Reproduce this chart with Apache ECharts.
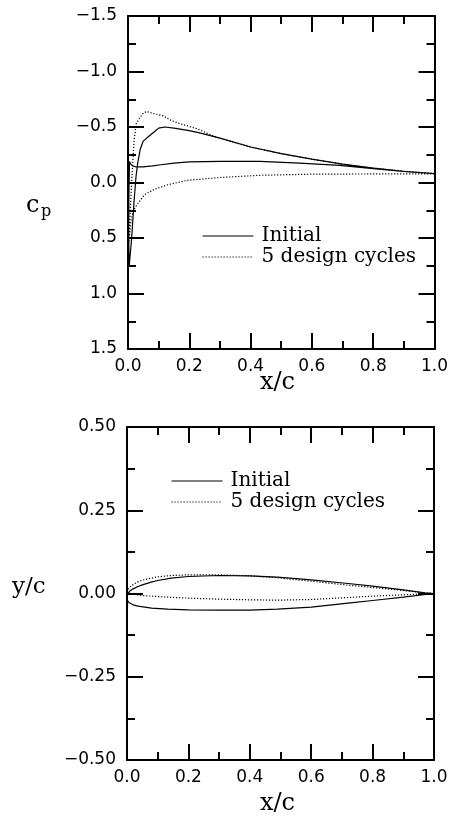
<!DOCTYPE html>
<html>
<head>
<meta charset="utf-8">
<script src="https://cdn.jsdelivr.net/npm/echarts@6/dist/echarts.min.js"></script>
<style>
  html, body { margin: 0; padding: 0; background: #fff; }
  #chart { width: 451px; height: 821px; }
</style>
</head>
<body>
<div id="chart"></div>
<script>
// pressure coefficient, upper surface runs TE -> LE, lower LE -> TE
const cpInitialUpper = [
  [1.0, -0.08], [0.9, -0.10], [0.8, -0.13], [0.7, -0.165], [0.6, -0.21], [0.5, -0.26],
  [0.4, -0.32], [0.3, -0.40], [0.23, -0.45], [0.195, -0.47], [0.15, -0.49], [0.12, -0.50],
  [0.1, -0.49], [0.087, -0.46], [0.065, -0.41], [0.049, -0.37], [0.04, -0.30], [0.032, -0.18],
  [0.026, -0.05], [0.02, 0.16], [0.012, 0.5], [0.004, 0.75]
];
const cpInitialLower = [
  [0.002, 0.5], [0.003, 0.1], [0.005, -0.19], [0.008, -0.17], [0.015, -0.15], [0.027, -0.14],
  [0.049, -0.14], [0.08, -0.15], [0.107, -0.16], [0.15, -0.175], [0.2, -0.185], [0.3, -0.19],
  [0.43, -0.19], [0.56, -0.175], [0.69, -0.155], [0.8, -0.125], [0.9, -0.10], [1.0, -0.08]
];
const cpDesignUpper = [
  [1.0, -0.08], [0.9, -0.10], [0.8, -0.13], [0.7, -0.165], [0.6, -0.21], [0.5, -0.26],
  [0.4, -0.32], [0.3, -0.40], [0.26, -0.44], [0.234, -0.475], [0.195, -0.51], [0.169, -0.53],
  [0.14, -0.56], [0.115, -0.60], [0.085, -0.62], [0.06, -0.64], [0.048, -0.62], [0.038, -0.58],
  [0.027, -0.53], [0.02, -0.38], [0.016, -0.2], [0.01, 0.1], [0.005, 0.4], [0.003, 0.55]
];
const cpDesignLower = [
  [0.004, 0.5], [0.01, 0.35], [0.016, 0.26], [0.027, 0.21], [0.04, 0.16], [0.054, 0.11],
  [0.087, 0.06], [0.13, 0.02], [0.195, -0.02], [0.3, -0.045], [0.43, -0.065], [0.6, -0.075],
  [0.8, -0.077], [1.0, -0.078]
];

// airfoil shape y/c
const foilInitialUpper = [
  [1.0, 0], [0.97, 0.002], [0.9, 0.011], [0.8, 0.022], [0.72, 0.030], [0.6, 0.041],
  [0.49, 0.049], [0.4, 0.053], [0.3, 0.054], [0.2, 0.051], [0.144, 0.046], [0.1, 0.039],
  [0.079, 0.034], [0.05, 0.026], [0.036, 0.021], [0.02, 0.014], [0.008, 0.007], [0.002, 0.001]
];
const foilInitialLower = [
  [0, -0.008], [0.001, -0.02], [0.006, -0.027], [0.02, -0.034], [0.036, -0.038], [0.08, -0.044],
  [0.133, -0.047], [0.2, -0.049], [0.3, -0.05], [0.4, -0.05], [0.49, -0.047], [0.6, -0.041],
  [0.72, -0.029], [0.8, -0.021], [0.9, -0.011], [1.0, 0]
];
const foilDesignUpper = [
  [1.0, 0], [0.97, 0.002], [0.9, 0.009], [0.8, 0.018], [0.72, 0.025], [0.6, 0.037],
  [0.49, 0.047], [0.4, 0.053], [0.3, 0.056], [0.2, 0.056], [0.144, 0.054], [0.1, 0.050],
  [0.079, 0.046], [0.05, 0.040], [0.036, 0.035], [0.02, 0.027], [0.008, 0.018], [0.002, 0.01]
];
const foilDesignLower = [
  [0, 0.003], [0.005, -0.001], [0.036, -0.005], [0.08, -0.008], [0.133, -0.011], [0.2, -0.014],
  [0.3, -0.017], [0.4, -0.019], [0.49, -0.02], [0.6, -0.018], [0.72, -0.012], [0.8, -0.008],
  [0.9, -0.004], [1.0, 0]
];

const names = ['Initial', '5 design cycles'];

const tickFont = { fontFamily: 'DejaVu Sans', fontSize: 17, color: '#000' };
const serif = 'DejaVu Serif';
const fmt = (d) => (v) => (v < 0 ? '\u2212' : '') + Math.abs(v).toFixed(d);

const frame = (extra) => Object.assign({
  type: 'value',
  axisLine: { show: true, onZero: false, lineStyle: { color: '#000', width: 2 } },
  axisTick: { show: true, inside: true, length: 16, lineStyle: { color: '#000', width: 2 } },
  minorTick: { show: true, splitNumber: 2, length: 8, lineStyle: { color: '#000', width: 2 } },
  splitLine: { show: false },
  minorSplitLine: { show: false },
}, extra);

const xAxes = (grid) => [
  frame({ gridIndex: grid, position: 'bottom', min: 0, max: 1, interval: 0.2,
    axisLabel: Object.assign({ margin: 9, formatter: fmt(1) }, tickFont) }),
  frame({ gridIndex: grid, position: 'top', min: 0, max: 1, interval: 0.2, axisLabel: { show: false } }),
];
const yAxes = (grid, min, max, step, dec, inverse) => [
  frame({ gridIndex: grid, position: 'left', min, max, interval: step, inverse,
    axisLabel: Object.assign({ margin: 11, formatter: fmt(dec) }, tickFont) }),
  frame({ gridIndex: grid, position: 'right', min, max, interval: step, inverse, axisLabel: { show: false } }),
];

const solid = { color: '#000', width: 1.2, type: 'solid' };
const dotted = { color: '#000', width: 1.2, type: [1.2, 1.8] };
const line = (name, data, style, ax) => ({
  name, type: 'line', data, xAxisIndex: ax, yAxisIndex: ax,
  symbol: 'none', showSymbol: false, lineStyle: style, itemStyle: { color: '#000' },
  animation: false,
});

// legend draws a circle for symbol 'none', hide it
const legend = (left, top) => ({
  data: names, orient: 'vertical', left, top, itemWidth: 51, itemHeight: 14, itemGap: 1,
  selectedMode: false,
  itemStyle: { opacity: 0, borderWidth: 0 },
  lineStyle: { width: 1 },
  textStyle: { fontFamily: serif, fontSize: 20, lineHeight: 20, color: '#000', padding: [0, 0, 0, 3] },
});

const titles = [
  { type: 'text', left: 260, top: 371, style: { text: 'x/c', font: '24px "DejaVu Serif"', fill: '#000' } },
  { type: 'text', left: 260, top: 792, style: { text: 'x/c', font: '24px "DejaVu Serif"', fill: '#000' } },
  { type: 'text', left: 26, top: 194, style: { text: 'c', font: '24px "DejaVu Serif"', fill: '#000' } },
  { type: 'text', left: 41, top: 204, style: { text: 'p', font: '16px "DejaVu Serif"', fill: '#000' } },
  { type: 'text', left: 12, top: 576, style: { text: 'y/c', font: '23px "DejaVu Serif"', fill: '#000' } },
];

const chart = echarts.init(document.getElementById('chart'));
chart.setOption({
  animation: false,
  backgroundColor: '#fff',
  grid: [
    { left: 128, top: 16, width: 307, height: 333 },
    { left: 127, top: 427, width: 307, height: 333 },
  ],
  xAxis: [...xAxes(0), ...xAxes(1)],
  yAxis: [...yAxes(0, -1.5, 1.5, 0.5, 1, true), ...yAxes(1, -0.5, 0.5, 0.25, 2, false)],
  legend: [legend(197, 221), legend(166, 466)],
  graphic: titles,
  series: [
    line(names[0], cpInitialUpper.concat(cpInitialLower), solid, 0),
    line(names[1], cpDesignUpper.concat(cpDesignLower), dotted, 0),
    line(names[0], foilInitialUpper.concat(foilInitialLower), solid, 2),
    line(names[1], foilDesignUpper.concat(foilDesignLower), dotted, 2),
  ],
});
</script>
</body>
</html>
